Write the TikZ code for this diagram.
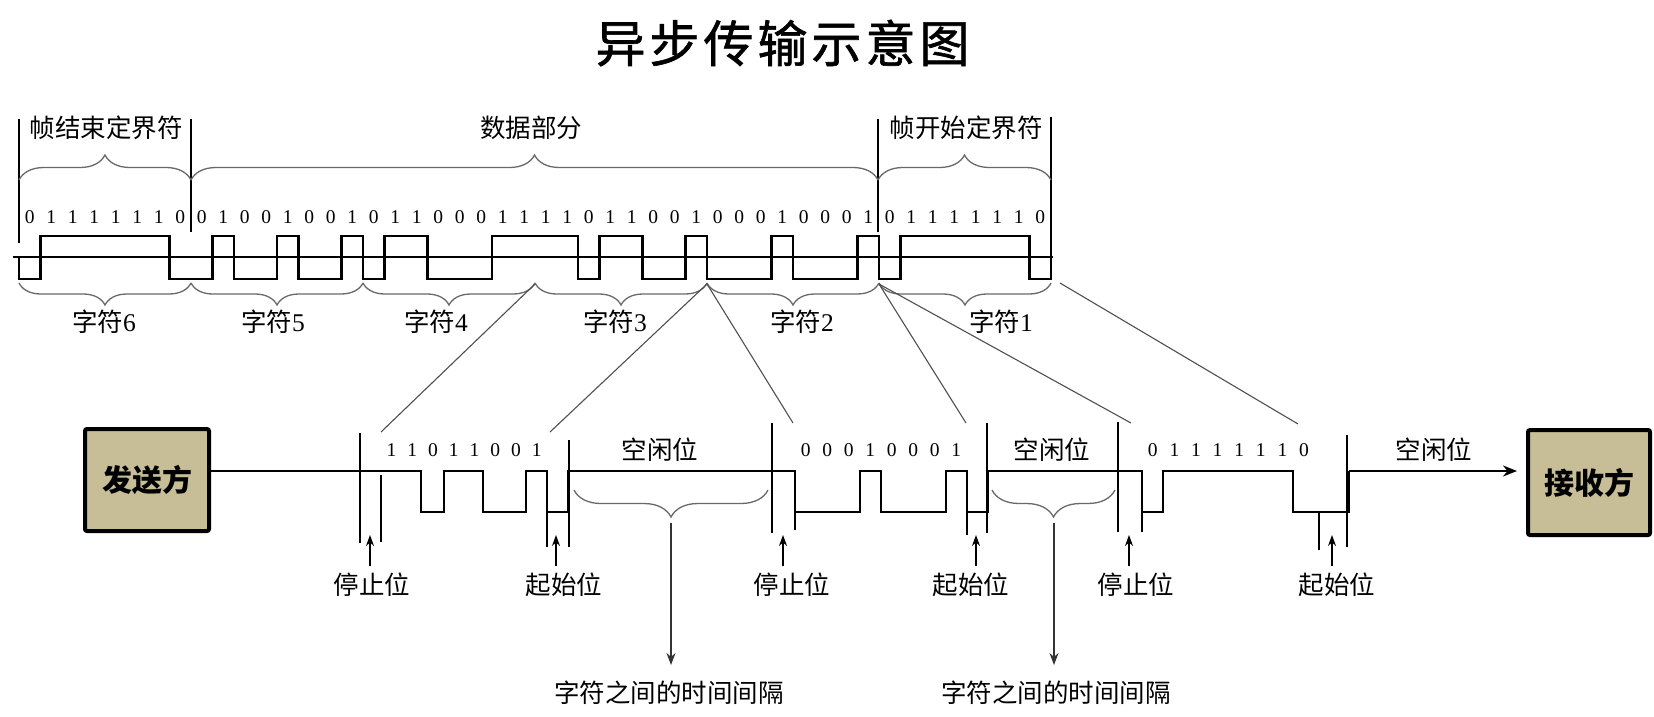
\documentclass[tikz,border=0pt]{standalone}
\usepackage{fontspec}
\newfontfamily\cjk{Noto Sans CJK SC}
\newfontfamily\cjktitle[FakeBold=1.2]{Noto Sans CJK SC}
\newfontfamily\digitfont{Liberation Serif}
\usetikzlibrary{decorations.pathreplacing,arrows.meta}
\definecolor{boxtan}{RGB}{199,190,152}
\definecolor{linegray}{RGB}{80,80,80}
\definecolor{bracegray}{RGB}{105,105,105}
\begin{document}
\begin{tikzpicture}[x=1pt,y=-1pt,
  every node/.style={inner sep=0pt, outer sep=0pt},
  lbl/.style={font=\cjk\fontsize{25.5}{30}\selectfont},
  bitlbl/.style={font=\digitfont\fontsize{19.5}{22}\selectfont},
  ttl/.style={font=\cjktitle\fontsize{50}{60}\selectfont},
  wave/.style={line width=2.8pt, line join=miter},
  thinln/.style={line width=1.2pt},
  slant/.style={line width=1.1pt, draw=linegray},
  brc/.style={draw=bracegray, line width=1.3pt, decorate, decoration={brace, amplitude=#1}},
  brcm/.style={draw=bracegray, line width=1.3pt, decorate, decoration={brace, mirror, amplitude=#1}},
  uparr/.style={line width=1.2pt, -{Stealth[length=11pt,width=8pt]}},
  downarr/.style={line width=1.2pt, draw=black!80, -{Stealth[length=12pt,width=9pt]}},
  box/.style={draw, line width=4pt, fill=boxtan, rounded corners=2pt, font=\cjk\bfseries\fontsize{30}{36}\selectfont}
]
\fill[white] (0,0) rectangle (1654,716);
\useasboundingbox (0,0) rectangle (1654,716);

% title
\node[ttl] (title) at (782.5,43) {异\hspace{4pt}步\hspace{4pt}传\hspace{4pt}输\hspace{4pt}示\hspace{4pt}意\hspace{4pt}图};

% ---------- top section ----------
\node[lbl] (endflag) at (106,128) {帧结束定界符};
\node[lbl] (datapart) at (531,128) {数据部分};
\node[lbl] (startflag) at (966,128) {帧开始定界符};

\draw[thinln] (19,119) -- (19,243);
\draw[thinln] (191,119) -- (191,232);
\draw[thinln] (878,119) -- (878,232);
\draw[thinln] (1051,117) -- (1051,240);

\draw[brc=25pt] (19,180) -- (191,180);
\draw[brc=25pt] (191,180) -- (878,180);
\draw[brc=25pt] (878,180) -- (1051,180);

\foreach \b [count=\i from 0] in {0,1,1,1,1,1,1,0,0,1,0,0,1,0,0,1,0,1,1,0,0,0,1,1,1,1,0,1,1,0,0,1,0,0,0,1,0,0,0,1,0,1,1,1,1,1,1,0}
  \node[bitlbl] (tb\i) at ({19+21.5*(\i+0.5)},217) {\b};

\draw[wave] (13,257) -- (1053,257);
\draw[wave] (19,257) -- (19,279) -- (40.5,279) -- (40.5,236) -- (169.5,236) -- (169.5,279) -- (212.5,279) -- (212.5,236) -- (234,236) -- (234,279) -- (277,279) -- (277,236) -- (298.5,236) -- (298.5,279) -- (341.5,279) -- (341.5,236) -- (363,236) -- (363,279) -- (384.5,279) -- (384.5,236) -- (427.5,236) -- (427.5,279) -- (492,279) -- (492,236) -- (578,236) -- (578,279) -- (599.5,279) -- (599.5,236) -- (642.5,236) -- (642.5,279) -- (685.5,279) -- (685.5,236) -- (707,236) -- (707,279) -- (771.5,279) -- (771.5,236) -- (793,236) -- (793,279) -- (857.5,279) -- (857.5,236) -- (879,236) -- (879,279) -- (900.5,279) -- (900.5,236) -- (1029.5,236) -- (1029.5,279) -- (1051,279) -- (1051,236);

\foreach \k in {0,...,5}
  \draw[brcm=22pt] ({19+172*\k},283) -- ({19+172*(\k+1)},283);

\node[lbl] (ch6) at (104,322) {字符{\digitfont 6}};
\node[lbl] (ch5) at (273,322) {字符{\digitfont 5}};
\node[lbl] (ch4) at (436,322) {字符{\digitfont 4}};
\node[lbl] (ch3) at (615,322) {字符{\digitfont 3}};
\node[lbl] (ch2) at (802,322) {字符{\digitfont 2}};
\node[lbl] (ch1) at (1001,322) {字符{\digitfont 1}};

% connectors top -> bottom
\coordinate (j43) at (535,284);
\coordinate (j32) at (707,284);
\coordinate (j21) at (879,284);
\coordinate (jend) at (1060,283);
\coordinate (b3l) at (381,432);
\coordinate (b3r) at (550,432);
\coordinate (b2l) at (793,423);
\coordinate (b2r) at (966,423);
\coordinate (b1l) at (1131,423);
\coordinate (b1r) at (1298,424);
\draw[slant] (j43) -- (b3l);
\draw[slant] (j32) -- (b3r);
\draw[slant] (j32) -- (b2l);
\draw[slant] (j21) -- (b2r);
\draw[slant] (j21) -- (b1l);
\draw[slant] (jend) -- (b1r);

% ---------- bottom section ----------
\node[box, minimum width=124pt, minimum height=102pt] (snd) at (147,480) {发送方};
\node[box, minimum width=122pt, minimum height=105pt] (rcv) at (1589,482.5) {接收方};

\coordinate (wend) at (1349,471);
\draw[wave] ([yshift=9pt]snd.east) -- (421,471) -- (421,512) -- (444,512) -- (444,471) -- (483,471) -- (483,512) -- (526,512) -- (526,471) -- (547,471) -- (547,512) -- (568,512) -- (568,471) -- (795,471) -- (795,512) -- (860,512) -- (860,471) -- (881,471) -- (881,512) -- (946,512) -- (946,471) -- (967,471) -- (967,512) -- (988,512) -- (988,471) -- (1142,471) -- (1142,512) -- (1163,512) -- (1163,471) -- (1293,471) -- (1293,512) -- (1349,512) -- (wend);
\draw[wave, -{Stealth[length=14pt,width=11pt]}, shorten >=11pt] (wend) -- (wend -| rcv.west);

\foreach \b [count=\i from 0] in {1,1,0,1,1,0,0,1}
  \node[bitlbl] (bc3\i) at ({381+20.75*(\i+0.5)},450) {\b};
\foreach \b [count=\i from 0] in {0,0,0,1,0,0,0,1}
  \node[bitlbl] (bc2\i) at ({795+21.5*(\i+0.5)},450) {\b};
\foreach \b [count=\i from 0] in {0,1,1,1,1,1,1,0}
  \node[bitlbl] (bc1\i) at ({1142+21.6*(\i+0.5)},450) {\b};

\node[lbl] (idle1) at (660,450) {空闲位};
\node[lbl] (idle2) at (1052,450) {空闲位};
\node[lbl] (idle3) at (1434,450) {空闲位};

% thin marker lines
\draw[thinln] (360,433) -- (360,543);
\draw[thinln] (381,475) -- (381,542);
\draw[thinln] (547,512) -- (547,547);
\draw[thinln] (569,440) -- (569,547);
\draw[thinln] (772,423) -- (772,533);
\draw[thinln] (795,512) -- (795,530);
\draw[thinln] (967,512) -- (967,535);
\draw[thinln] (987,423) -- (987,533);
\draw[thinln] (1118,422) -- (1118,532);
\draw[thinln] (1142,512) -- (1142,532);
\draw[thinln] (1319,512) -- (1319,550);
\draw[thinln] (1347,435) -- (1347,547);

% up arrows and labels
\node[lbl] (stop1) at (372,585) {停止位};
\node[lbl] (start1) at (564,585) {起始位};
\node[lbl] (stop2) at (792,585) {停止位};
\node[lbl] (start2) at (971,585) {起始位};
\node[lbl] (stop3) at (1136,585) {停止位};
\node[lbl] (start3) at (1337,585) {起始位};
\foreach \n/\x in {s1/370,a1/556,s2/783,a2/976,s3/1129,a3/1332}{
  \coordinate (\n b) at (\x,566);
  \coordinate (\n t) at (\x,535);
  \draw[uparr] (\n b) -- (\n t);
}

% idle braces and gap arrows
\draw[brcm=27pt] (574,490) -- (768,490);
\draw[brcm=27pt] (992,490) -- (1115,490);
\node[lbl] (gap1) at (669,693) {字符之间的时间间隔};
\node[lbl] (gap2) at (1056,693) {字符之间的时间间隔};
\coordinate (g1t) at (671,523);
\coordinate (g1b) at (671,665);
\coordinate (g2t) at (1054,523);
\coordinate (g2b) at (1054,665);
\draw[downarr] (g1t) -- (g1b);
\draw[downarr] (g2t) -- (g2b);
\end{tikzpicture}
\end{document}
